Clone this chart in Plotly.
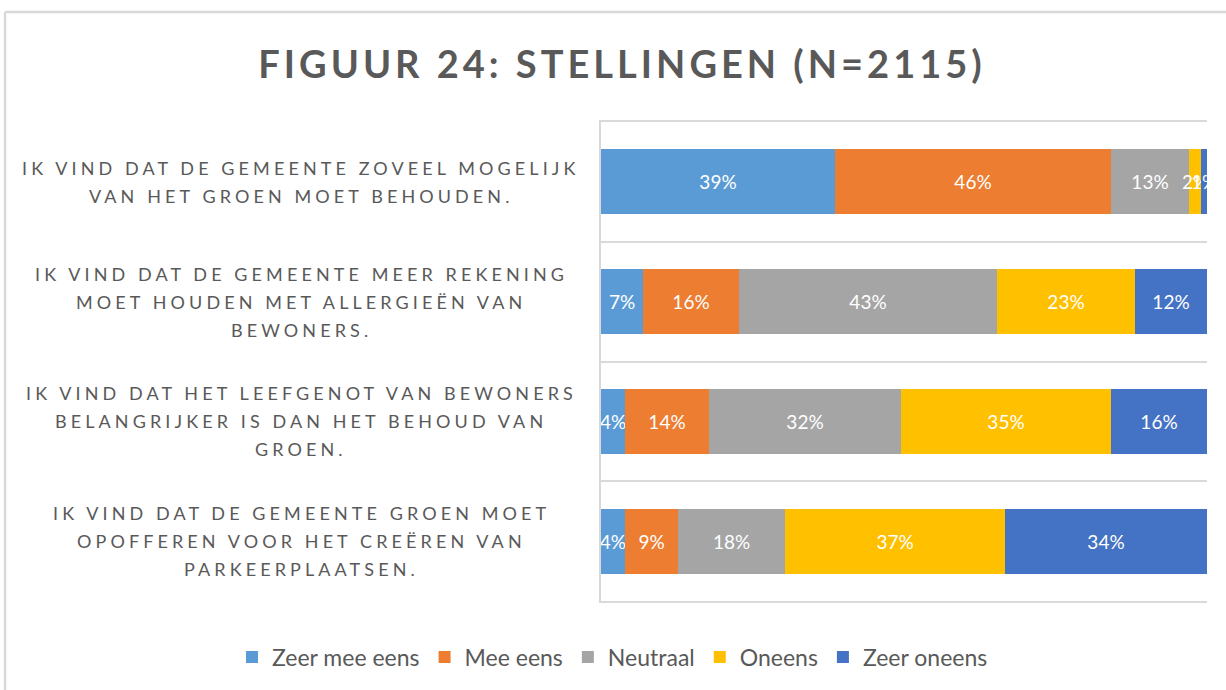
import plotly.graph_objects as go

# ---- data ----
statements = [
    "IK VIND DAT DE GEMEENTE ZOVEEL MOGELIJK VAN HET GROEN MOET BEHOUDEN.",
    "IK VIND DAT DE GEMEENTE MEER REKENING MOET HOUDEN MET ALLERGIEËN VAN BEWONERS.",
    "IK VIND DAT HET LEEFGENOT VAN BEWONERS BELANGRIJKER IS DAN HET BEHOUD VAN GROEN.",
    "IK VIND DAT DE GEMEENTE GROEN MOET OPOFFEREN VOOR HET CREËREN VAN PARKEERPLAATSEN.",
]
statement_lines = [
    ["IK VIND DAT DE GEMEENTE ZOVEEL MOGELIJK", "VAN HET GROEN MOET BEHOUDEN."],
    ["IK VIND DAT DE GEMEENTE MEER REKENING", "MOET HOUDEN MET ALLERGIEËN VAN", "BEWONERS."],
    ["IK VIND DAT HET LEEFGENOT VAN BEWONERS", "BELANGRIJKER IS DAN HET BEHOUD VAN", "GROEN."],
    ["IK VIND DAT DE GEMEENTE GROEN MOET", "OPOFFEREN VOOR HET CREËREN VAN", "PARKEERPLAATSEN."],
]
series_names = ["Zeer mee eens", "Mee eens", "Neutraal", "Oneens", "Zeer oneens"]
zeer_mee_eens = [39, 7, 4, 4]
mee_eens = [46, 16, 14, 9]
neutraal = [13, 43, 32, 18]
oneens = [2, 23, 35, 37]
zeer_oneens = [1, 12, 16, 34]
series_values = [zeer_mee_eens, mee_eens, neutraal, oneens, zeer_oneens]
colors = ["#5B9BD5", "#ED7D31", "#A5A5A5", "#FFC000", "#4472C4"]
title_text = "FIGUUR 24: STELLINGEN (N=2115)"

W, H = 1226, 690
ML, MR, MT, MB = 601, 19, 122, 89
PW, PH = W - ML - MR, H - MT - MB

def px_x(px):
    return (px - ML) / PW

def px_y(py):
    return (H - MB - py) / PH

FONT = "Lato, Open Sans, sans-serif"
GRAY = "#595959"
LINE = "#D9D9D9"

fig = go.Figure()
for name, vals, col in zip(series_names, series_values, colors):
    fig.add_trace(go.Bar(
        y=statements, x=vals, name=name, orientation="h",
        marker=dict(color=col, line=dict(width=0)),
        text=[f"{v}%" for v in vals],
        texttemplate="%{text}",
        textposition="inside", insidetextanchor="middle",
        textangle=0, constraintext="none",
        textfont=dict(family=FONT, size=19, color="white"),
        hoverinfo="skip",
    ))

annotations = []
LS = 28
for stmt, lines in zip(statements, statement_lines):
    n = len(lines)
    for i, ln in enumerate(lines):
        off = ((n - 1) / 2 - i) * LS
        annotations.append(dict(
            xref="paper", yref="y", x=px_x(301), y=stmt, yshift=off,
            xanchor="center", yanchor="middle", showarrow=False,
            text=f'<span style="letter-spacing:4.1px">{ln}</span>',
            font=dict(family=FONT, size=18, color=GRAY),
        ))

fig.update_layout(
    width=W, height=H,
    margin=dict(l=ML, r=MR, t=MT, b=MB),
    paper_bgcolor="white", plot_bgcolor="white",
    barmode="stack", barnorm="percent", bargap=0.457,
    title=dict(
        text=f'<span style="letter-spacing:4px">{title_text}</span>',
        x=622 / W, xref="container", xanchor="center",
        y=1 - 65 / H, yref="container", yanchor="middle",
        font=dict(family=FONT, size=38, color=GRAY, weight="bold"),
    ),
    xaxis=dict(range=[0, 100], showgrid=False, zeroline=False,
               showticklabels=False, ticks="", showline=True, mirror=True,
               linecolor=LINE, linewidth=1.5, fixedrange=True),
    yaxis=dict(type="category", categoryorder="array",
               categoryarray=statements[::-1],
               tickson="boundaries", showgrid=True, gridcolor=LINE,
               gridwidth=1.5, showticklabels=False, ticks="",
               showline=True, linecolor=LINE, linewidth=1.5,
               zeroline=False),
    legend=dict(orientation="h", xref="paper", yref="paper",
                x=px_x(232), xanchor="left", y=px_y(657), yanchor="middle",
                font=dict(family=FONT, size=23, color=GRAY),
                itemwidth=30, traceorder="normal", tracegroupgap=0),
    annotations=annotations,
    shapes=[
        dict(type="line", xref="paper", yref="paper",
             x0=px_x(5), x1=px_x(1240), y0=px_y(12), y1=px_y(12),
             line=dict(color=LINE, width=2.5)),
        dict(type="line", xref="paper", yref="paper",
             x0=px_x(5), x1=px_x(5), y0=px_y(12), y1=px_y(700),
             line=dict(color=LINE, width=2.5)),
    ],
)

fig.write_html("out.html", config={"displayModeBar": False},
               post_script="document.body.style.margin='0';")
